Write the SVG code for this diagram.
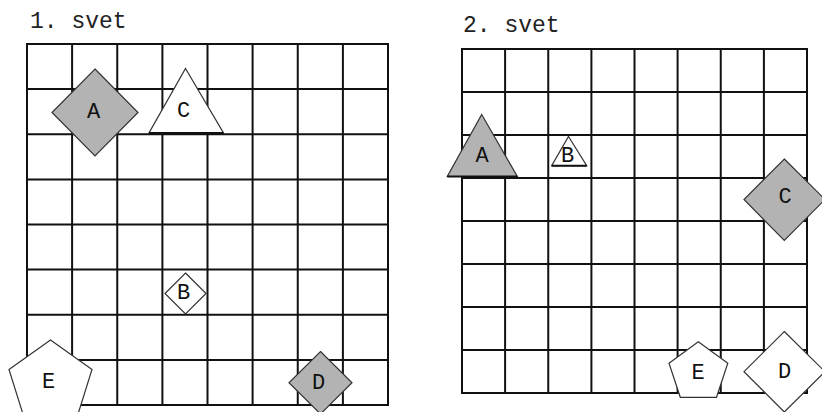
<svg xmlns="http://www.w3.org/2000/svg" width="822" height="412" viewBox="0 0 822 412">
<style>
.grid line{stroke:#111;stroke-width:2;stroke-linecap:square}
.shape{stroke:#333;stroke-width:1.2;stroke-linejoin:miter}
.gray{fill:#b3b3b3}
.white{fill:#fff}
.base{stroke:#111;stroke-width:2}
.lbl{font-family:"Liberation Mono","DejaVu Sans Mono",monospace;font-size:22px;fill:#111;text-anchor:middle}
.title{font-family:"Liberation Mono","DejaVu Sans Mono",monospace;font-size:23px;fill:#222}
</style>
<rect width="822" height="412" fill="#fff"/>
<text class="title" x="30" y="28">1. svet</text>
<text class="title" x="463" y="32">2. svet</text>
<g id="grid1" class="grid">
<line x1="27" y1="44" x2="27" y2="405"/><line x1="72.1" y1="44" x2="72.1" y2="405"/><line x1="117.25" y1="44" x2="117.25" y2="405"/><line x1="162.4" y1="44" x2="162.4" y2="405"/><line x1="207.5" y1="44" x2="207.5" y2="405"/><line x1="252.6" y1="44" x2="252.6" y2="405"/><line x1="297.75" y1="44" x2="297.75" y2="405"/><line x1="342.9" y1="44" x2="342.9" y2="405"/><line x1="388" y1="44" x2="388" y2="405"/>
<line x1="27" y1="44" x2="388" y2="44"/><line x1="27" y1="89.1" x2="388" y2="89.1"/><line x1="27" y1="134.25" x2="388" y2="134.25"/><line x1="27" y1="179.4" x2="388" y2="179.4"/><line x1="27" y1="224.5" x2="388" y2="224.5"/><line x1="27" y1="269.6" x2="388" y2="269.6"/><line x1="27" y1="314.75" x2="388" y2="314.75"/><line x1="27" y1="359.9" x2="388" y2="359.9"/><line x1="27" y1="405" x2="388" y2="405"/>
</g>
<g id="grid2" class="grid">
<line x1="462" y1="49" x2="462" y2="393"/><line x1="505.1" y1="49" x2="505.1" y2="393"/><line x1="548.25" y1="49" x2="548.25" y2="393"/><line x1="591.4" y1="49" x2="591.4" y2="393"/><line x1="634.5" y1="49" x2="634.5" y2="393"/><line x1="677.6" y1="49" x2="677.6" y2="393"/><line x1="720.75" y1="49" x2="720.75" y2="393"/><line x1="763.9" y1="49" x2="763.9" y2="393"/><line x1="807" y1="49" x2="807" y2="393"/>
<line x1="462" y1="49" x2="807" y2="49"/><line x1="462" y1="92" x2="807" y2="92"/><line x1="462" y1="135" x2="807" y2="135"/><line x1="462" y1="178" x2="807" y2="178"/><line x1="462" y1="221" x2="807" y2="221"/><line x1="462" y1="264" x2="807" y2="264"/><line x1="462" y1="307" x2="807" y2="307"/><line x1="462" y1="350" x2="807" y2="350"/><line x1="462" y1="393" x2="807" y2="393"/>
</g>
<g id="w1-A">
<polygon class="shape gray" points="95,69 138,112.5 95,156 52,112.5"/>
<text class="lbl" x="93.5" y="117.5">A</text>
</g>
<g id="w1-C">
<polygon class="shape white" points="185.5,68.5 223.5,133 149,133"/>
<line class="base" x1="149" y1="133" x2="223.5" y2="133"/>
<text class="lbl" x="183.5" y="117">C</text>
</g>
<g id="w1-B">
<polygon class="shape white" points="185.5,273 206,293.5 185.5,314 165,293.5"/>
<text class="lbl" x="183.5" y="299">B</text>
</g>
<g id="w1-E">
<polygon class="shape white" points="50.5,340 92,369.5 76.5,419 24.5,419 9,369.5"/>
<text class="lbl" x="48.5" y="388">E</text>
</g>
<g id="w1-D">
<polygon class="shape gray" points="320.5,351.5 352,382.7 320.5,414 289,382.7"/>
<text class="lbl" x="318.5" y="389">D</text>
</g>
<g id="w2-A">
<polygon class="shape gray" points="481.7,114.5 517.3,176.5 447.3,176.5"/>
<line class="base" x1="447.3" y1="176.5" x2="517.3" y2="176.5"/>
<text class="lbl" x="482" y="162">A</text>
</g>
<g id="w2-B">
<polygon class="shape white" points="568.5,136.5 586.7,165.7 551.7,165.7"/>
<line class="base" x1="551.7" y1="165.7" x2="586.7" y2="165.7"/>
<text class="lbl" x="567.5" y="161.5">B</text>
</g>
<g id="w2-C">
<polygon class="shape gray" points="784.3,159 825,199.5 784.3,240.5 744,199.5"/>
<text class="lbl" x="785" y="203">C</text>
</g>
<g id="w2-E">
<polygon class="shape white" points="698.3,341.7 727.8,363.3 716.5,397.3 680.3,397.3 669,363.3"/>
<text class="lbl" x="698" y="379">E</text>
</g>
<g id="w2-D">
<polygon class="shape white" points="784.3,331.5 825,371.7 784.3,412 744,371.7"/>
<text class="lbl" x="784.5" y="378">D</text>
</g>
<g id="connectors"></g>
</svg>
